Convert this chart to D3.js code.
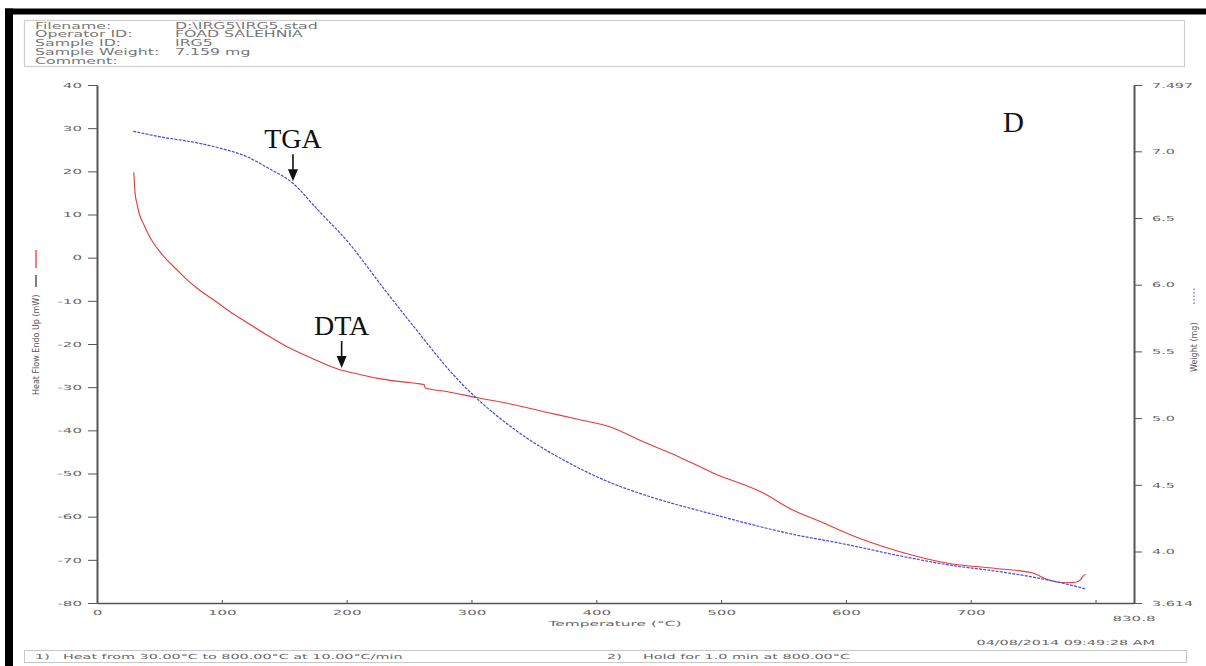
<!DOCTYPE html>
<html>
<head>
<meta charset="utf-8">
<script src="https://cdn.jsdelivr.net/npm/d3@7"></script>
<style>
  body { margin: 0; background: #fff; }
  svg { display: block; }
</style>
</head>
<body>
<svg id="chart" width="1206" height="666"></svg>
<script>
// ---- run information ----
const headerLabels = ["Filename:", "Operator ID:", "Sample ID:", "Sample Weight:", "Comment:"];
const headerValues = ["D:\\IRG5\\IRG5.stad", "FOAD SALEHNIA", "IRG5", "7.159 mg", ""];
const methodSteps = [
  ["1)", "Heat from 30.00°C to 800.00°C at 10.00°C/min"],
  ["2)", "Hold for 1.0 min at 800.00°C"]
];
const runStamp = "04/08/2014 09:49:28 AM";

// ---- DTA: heat flow (mW) vs temperature (°C) ----
const dtaTemp = [29.5, 30.5, 32, 34, 37, 41, 45, 50, 56, 64, 72, 82, 93, 106, 120, 136, 152, 172, 194, 210,
  224, 240, 255, 262, 263, 280, 304, 333, 360, 386, 413, 434, 466, 493, 533, 557, 580, 602, 642, 682,
  720, 749, 762, 776, 784, 788, 790, 792];
const dtaHeatFlow = [19.8, 15, 12.5, 10, 8, 5.5, 3.5, 1.5, -0.5, -2.8, -5.1, -7.5, -9.7, -12.4, -15, -17.9, -20.6, -23.3, -25.9, -27,
  -27.9, -28.6, -29.1, -29.4, -30.2, -31.0, -32.4, -34.0, -35.8, -37.5, -39.4, -42.2, -46.1, -49.8, -54.4, -58.4, -61.2, -64, -68, -70.8,
  -72, -73, -74.6, -75.3, -75.2, -74.6, -73.8, -73.3];

// ---- TGA: sample weight (mg) vs temperature (°C) ----
const tgaTemp = [29, 50, 82, 100, 120, 136, 157, 176, 202, 229, 256, 285, 304, 320, 346, 373, 397, 413, 440, 493, 557,
  602, 642, 682, 722, 749, 770, 792];
const tgaWeight = [7.15, 7.11, 7.06, 7.02, 6.96, 6.88, 6.76, 6.57, 6.31, 5.98, 5.66, 5.33, 5.15, 5.02, 4.84, 4.69, 4.575, 4.51, 4.42, 4.28, 4.13,
  4.05, 3.97, 3.90, 3.85, 3.81, 3.77, 3.72];

// ---- axes ----
const tempDomain = [0, 830.8];
const tempTicks = [0, 100, 200, 300, 400, 500, 600, 700, 800];
const tempTickLabels = ["0", "100", "200", "300", "400", "500", "600", "700", ""];
const tempEndLabel = "830.8";
const heatFlowDomain = [-80, 40];
const heatFlowTicks = [40, 30, 20, 10, 0, -10, -20, -30, -40, -50, -60, -70, -80];
const weightDomain = [3.614, 7.497];
const weightTicks = [7.497, 7.0, 6.5, 6.0, 5.5, 5.0, 4.5, 4.0, 3.614];
const weightTickLabels = ["7.497", "7.0", "6.5", "6.0", "5.5", "5.0", "4.5", "4.0", "3.614"];

// ---- annotations ----
const curveNotes = [
  { label: "TGA", series: "tga", temp: 157 },
  { label: "DTA", series: "dta", temp: 196 }
];
const panelLetter = "D";

const svg = d3.select("#chart");
const instFont = "'DejaVu Sans', sans-serif";
const serifFont = "'Liberation Serif', 'Times New Roman', serif";
const inkGray = "#666";

// widen text horizontally by factor k
function stretch(sel, k) {
  sel.each(function () {
    const L = this.getComputedTextLength();
    if (L > 0) {
      d3.select(this).attr("textLength", L * k).attr("lengthAdjust", "spacingAndGlyphs");
    }
  });
}

// page frame
svg.append("rect").attr("x", 5).attr("y", 8.5).attr("width", 1201).attr("height", 6).attr("fill", "#000");
svg.append("rect").attr("x", 5).attr("y", 8.5).attr("width", 8).attr("height", 658).attr("fill", "#000");

// header box
svg.append("rect").attr("x", 24.5).attr("y", 20.5).attr("width", 1160).attr("height", 46)
  .attr("fill", "none").attr("stroke", "#cfcfcf").attr("stroke-width", 1.2);
const header = svg.append("g").attr("font-family", instFont).attr("font-size", 8.4).attr("fill", "#777");
headerLabels.forEach((t, i) => {
  const y = 28.5 + i * 8.9;
  header.append("text").attr("x", 35).attr("y", y).text(t).call(stretch, 1.88);
  if (headerValues[i]) header.append("text").attr("x", 175).attr("y", y).text(headerValues[i]).call(stretch, 1.88);
});

// scales
const x = d3.scaleLinear().domain(tempDomain).range([97, 1134]);
const yL = d3.scaleLinear().domain(heatFlowDomain).range([603, 85]);
const yR = d3.scaleLinear().domain(weightDomain).range([603, 85]);

// axes
const axisStyle = g => {
  g.selectAll("path.domain").attr("stroke", "#555").attr("stroke-width", 2);
  g.selectAll(".tick line").attr("stroke", "#555").attr("stroke-width", 1);
  g.selectAll(".tick text").attr("fill", inkGray).attr("font-family", instFont).attr("font-size", 7);
};
const plainNum = d => (d < 0 ? "-" + Math.abs(d) : String(d));

const gx = svg.append("g").attr("transform", "translate(0,603)")
  .call(d3.axisBottom(x).tickValues(tempTicks).tickFormat((d, i) => tempTickLabels[i]).tickSizeInner(-3).tickSizeOuter(0).tickPadding(7));
axisStyle(gx);
gx.selectAll("path.domain").attr("stroke-width", 1.5);
gx.selectAll(".tick text").call(stretch, 2.15);
gx.append("text").attr("x", x(tempDomain[1])).attr("y", 13).attr("dy", "0.71em").attr("text-anchor", "middle")
  .attr("fill", inkGray).attr("font-family", instFont).attr("font-size", 7).text(tempEndLabel).call(stretch, 2.15);

const gl = svg.append("g").attr("transform", "translate(97,0)")
  .call(d3.axisLeft(yL).tickValues(heatFlowTicks).tickFormat(plainNum).tickSizeInner(9).tickSizeOuter(0).tickPadding(6));
axisStyle(gl);
gl.selectAll(".tick text").call(stretch, 2.15);

const gr = svg.append("g").attr("transform", "translate(1134,0)")
  .call(d3.axisRight(yR).tickValues(weightTicks).tickFormat((d, i) => weightTickLabels[i]).tickSizeInner(8).tickSizeOuter(0).tickPadding(10));
axisStyle(gr);
gr.selectAll(".tick text").call(stretch, 2.05);

// axis titles
svg.append("text").attr("x", 615).attr("y", 626).attr("text-anchor", "middle")
  .attr("font-family", instFont).attr("font-size", 7).attr("fill", inkGray)
  .text("Temperature (°C)").call(stretch, 2.2);

const leftTitle = svg.append("g").attr("transform", "translate(39,395) rotate(-90)");
leftTitle.append("text").attr("x", 0).attr("y", 0).attr("font-family", instFont).attr("font-size", 8)
  .attr("fill", "#555").text("Heat Flow Endo Up (mW)");
leftTitle.append("line").attr("x1", 108).attr("x2", 120).attr("y1", -3).attr("y2", -3).attr("stroke", "#555").attr("stroke-width", 1.5);
leftTitle.append("line").attr("x1", 127).attr("x2", 145).attr("y1", -3).attr("y2", -3).attr("stroke", "#f08080").attr("stroke-width", 2);

const rightTitle = svg.append("g").attr("transform", "translate(1197,372) rotate(-90)");
rightTitle.append("text").attr("x", 0).attr("y", 0).attr("font-family", instFont).attr("font-size", 8)
  .attr("fill", "#555").text("Weight (mg)");
rightTitle.append("line").attr("x1", 68).attr("x2", 84).attr("y1", -3).attr("y2", -3).attr("stroke", "#5a5ae6")
  .attr("stroke-width", 1.2).attr("stroke-dasharray", "1.5,2");

// curves
const dtaData = dtaTemp.map((t, i) => [t, dtaHeatFlow[i]]);
const tgaData = tgaTemp.map((t, i) => [t, tgaWeight[i]]);

const dtaLine = d3.line().x(d => x(d[0])).y(d => yL(d[1])).curve(d3.curveMonotoneX);
const tgaLine = d3.line().x(d => x(d[0])).y(d => yR(d[1])).curve(d3.curveMonotoneX);

svg.append("path").datum(dtaData).attr("d", dtaLine).attr("fill", "none")
  .attr("stroke", "#e23b3b").attr("stroke-width", 1.1);
svg.append("path").datum(tgaData).attr("d", tgaLine).attr("fill", "none")
  .attr("stroke", "#4848dc").attr("stroke-width", 1.2).attr("stroke-dasharray", "3,1.2");

// arrow annotations
function valueAt(temps, vals, t) {
  const i = d3.bisectLeft(temps, t);
  if (i <= 0) return vals[0];
  if (i >= temps.length) return vals[vals.length - 1];
  const f = (t - temps[i - 1]) / (temps[i] - temps[i - 1]);
  return vals[i - 1] + f * (vals[i] - vals[i - 1]);
}
curveNotes.forEach(n => {
  const px = x(n.temp);
  const py = n.series === "tga" ? yR(valueAt(tgaTemp, tgaWeight, n.temp)) : yL(valueAt(dtaTemp, dtaHeatFlow, n.temp));
  const tip = py - 2;
  svg.append("line").attr("x1", px).attr("x2", px).attr("y1", tip - 27).attr("y2", tip - 10)
    .attr("stroke", "#111").attr("stroke-width", 1.6);
  svg.append("path").attr("d", `M${px - 5},${tip - 12} L${px + 5},${tip - 12} L${px},${tip} Z`).attr("fill", "#111");
  svg.append("text").attr("x", px).attr("y", tip - 33).attr("text-anchor", "middle")
    .attr("font-family", serifFont).attr("font-size", 28).attr("fill", "#111").text(n.label);
});

svg.append("text").attr("x", 1003).attr("y", 132).attr("font-family", serifFont).attr("font-size", 29)
  .attr("fill", "#111").text(panelLetter);

// run stamp and method box
svg.append("text").attr("x", 1155).attr("y", 645).attr("text-anchor", "end").attr("font-family", instFont)
  .attr("font-size", 7).attr("fill", inkGray).text(runStamp).call(stretch, 2.05);
svg.append("rect").attr("x", 24.5).attr("y", 650.5).attr("width", 1162).attr("height", 12)
  .attr("fill", "none").attr("stroke", "#c8c8c8").attr("stroke-width", 1);
const stepX = [[35, 63], [607, 643]];
methodSteps.forEach((s, i) => {
  svg.append("text").attr("x", stepX[i][0]).attr("y", 659).attr("font-family", instFont).attr("font-size", 7)
    .attr("fill", inkGray).text(s[0]).call(stretch, 2.05);
  svg.append("text").attr("x", stepX[i][1]).attr("y", 659).attr("font-family", instFont).attr("font-size", 7)
    .attr("fill", inkGray).text(s[1]).call(stretch, 2.05);
});
</script>
</body>
</html>
